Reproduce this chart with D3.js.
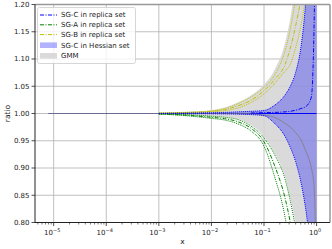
<!DOCTYPE html>
<html>
<head>
<meta charset="utf-8">
<script src="https://cdn.jsdelivr.net/npm/d3@7"></script>
<style>
  body { margin: 0; background: #fff; }
  svg { display: block; font-family: "DejaVu Sans", sans-serif; }
</style>
</head>
<body>
<svg width="332" height="249"></svg>
<script>
// x grid shared by all curves (log spaced)
var xGrid = [8e-6, 1e-4, 1e-3, 3.16e-3, 0.01, 0.0178, 0.0316, 0.0562, 0.1, 0.158, 0.251, 0.316, 0.398, 0.501, 0.631, 0.794, 0.891, 1.0];
// replica curves only start here
var replicaStart = 1e-3;

// GMM band + central line
var gmmHi  = [1, 1.0002, 1.001, 1.0028, 1.006, 1.011, 1.02, 1.033, 1.053, 1.08, 1.13, 1.175, 1.24, 1.32, 1.42, 1.55, 1.62, 1.7];
var gmmLo  = [1, 0.9999, 0.9995, 0.9982, 0.9955, 0.9935, 0.99, 0.979, 0.958, 0.928, 0.885, 0.845, 0.8, 0.74, 0.67, 0.59, 0.55, 0.5];
var gmmMid = [1, 1, 1, 1, 1, 1, 1, 0.9995, 0.997, 0.993, 0.982, 0.975, 0.965, 0.952, 0.93, 0.9, 0.87, 0.7];

// SG-C Hessian band (replica dotted lines sit on its edges)
var hessHi = [1, 1, 1.0003, 1.0007, 1.0015, 1.002, 1.003, 1.004, 1.0055, 1.015, 1.034, 1.05, 1.075, 1.12, 1.21, 1.35, 1.45, 1.55];
var hessLo = [1, 1, 0.9999, 0.9998, 0.9995, 0.9992, 0.9988, 0.998, 0.996, 0.982, 0.958, 0.938, 0.912, 0.875, 0.82, 0.74, 0.7, 0.65];
var hessMid = [1, 1, 1, 1, 1, 1, 1, 1, 1, 1, 1, 1, 1, 1, 1, 1, 1, 1];
var sgCMid = [1, 1, 1, 1, 1, 1, 1.0003, 1.0008, 1.0015, 1.002, 1.003, 1.004, 1.006, 1.009, 1.013, 1.03, 1.15, 1.5];

// SG-A replica (below 1)
var sgALo  = [1, 0.9998, 0.999, 0.996, 0.991, 0.988, 0.981, 0.968, 0.94, 0.885, 0.81, 0.75, 0.68, 0.6, 0.5, 0.4, 0.35, 0.3];
var sgAMid = [1, 0.99985, 0.9992, 0.997, 0.993, 0.9905, 0.985, 0.973, 0.948, 0.905, 0.845, 0.8, 0.74, 0.67, 0.59, 0.5, 0.45, 0.4];
var sgAHi  = [1, 0.9999, 0.9995, 0.998, 0.995, 0.993, 0.989, 0.977, 0.955, 0.925, 0.88, 0.84, 0.79, 0.73, 0.66, 0.58, 0.54, 0.5];

// SG-B replica (above 1)
var sgBHi  = [1, 1.0001, 1.0008, 1.0022, 1.005, 1.009, 1.018, 1.03, 1.048, 1.07, 1.115, 1.155, 1.21, 1.28, 1.38, 1.5, 1.57, 1.65];
var sgBMid = [1, 1.0001, 1.0006, 1.0017, 1.004, 1.007, 1.014, 1.024, 1.042, 1.062, 1.09, 1.12, 1.16, 1.21, 1.28, 1.37, 1.43, 1.5];
var sgBLo  = [1, 1, 1.0004, 1.0012, 1.003, 1.005, 1.01, 1.02, 1.036, 1.055, 1.078, 1.09, 1.12, 1.16, 1.22, 1.3, 1.35, 1.4];

var yTicks = [0.80, 0.85, 0.90, 0.95, 1.00, 1.05, 1.10, 1.15, 1.20];
var xTicks = [1e-5, 1e-4, 1e-3, 1e-2, 1e-1, 1];
var xTickExp = ["\u22125", "\u22124", "\u22123", "\u22122", "\u22121", "0"];
var legendLabels = ["SG-C in replica set", "SG-A in replica set", "SG-B in replica set", "SG-C in Hessian set", "GMM"];

var svg = d3.select("svg");
var pL = 35, pR = 330, pT = 4.5, pB = 222.5;

var x = d3.scaleLog().domain([Math.pow(10, -5.355), Math.pow(10, 0.255)]).range([pL, pR]);
var y = d3.scaleLinear().domain([0.8, 1.2]).range([pB, pT]);

svg.append("defs").append("clipPath").attr("id", "clip")
  .append("rect").attr("x", pL).attr("y", pT).attr("width", pR - pL).attr("height", pB - pT);

// grid
var grid = svg.append("g").attr("stroke", "#b0b0b0").attr("stroke-width", 0.8);
yTicks.forEach(function(v) {
  grid.append("line").attr("x1", pL).attr("x2", pR).attr("y1", y(v)).attr("y2", y(v));
});
xTicks.forEach(function(v) {
  grid.append("line").attr("x1", x(v)).attr("x2", x(v)).attr("y1", pT).attr("y2", pB);
});

var plot = svg.append("g").attr("clip-path", "url(#clip)");

function area(lo, hi) {
  return d3.area()
    .x(function(d, i) { return x(xGrid[i]); })
    .y0(function(d, i) { return y(lo[i]); })
    .y1(function(d, i) { return y(hi[i]); })
    .curve(d3.curveMonotoneX)(xGrid);
}
function line(vals, from) {
  return d3.line()
    .defined(function(d) { return d >= from; })
    .x(function(d, i) { return x(xGrid[i]); })
    .y(function(d, i) { return y(vals[i]); })
    .curve(d3.curveMonotoneX)(xGrid);
}

plot.append("path").attr("d", area(gmmLo, gmmHi)).attr("fill", "#d3d3d3").attr("fill-opacity", 0.85);
plot.append("path").attr("d", area(hessLo, hessHi)).attr("fill", "#0000ff").attr("fill-opacity", 0.3);

var dashdot = "4,1.5,1,1.5", dotted = "1,1";
var lines = [
  {v: hessMid, c: "#0000ff", dash: null, w: 1.2, from: 0},
  {v: gmmMid, c: "#808080", dash: null, w: 1, o: 0.85, from: 0},
  {v: sgAHi, c: "#008000", dash: dotted, from: replicaStart},
  {v: sgALo, c: "#008000", dash: dotted, from: replicaStart},
  {v: sgAMid, c: "#008000", dash: dashdot, from: replicaStart},
  {v: sgBHi, c: "#bfbf00", dash: dotted, from: replicaStart},
  {v: sgBLo, c: "#bfbf00", dash: dotted, from: replicaStart},
  {v: sgBMid, c: "#bfbf00", dash: dashdot, from: replicaStart},
  {v: hessHi, c: "#0000ff", dash: dotted, from: replicaStart},
  {v: hessLo, c: "#0000ff", dash: dotted, from: replicaStart},
  {v: sgCMid, c: "#0000ff", dash: dashdot, from: 0.05}
];
lines.forEach(function(l) {
  plot.append("path").attr("d", line(l.v, l.from)).attr("fill", "none")
    .attr("stroke", l.c).attr("stroke-width", l.w || 1)
    .attr("stroke-opacity", l.o || 1)
    .attr("stroke-dasharray", l.dash);
});

// spines
svg.append("line").attr("x1", pL).attr("x2", pR).attr("y1", pT).attr("y2", pT).attr("stroke", "#999").attr("stroke-width", 1.5);
svg.append("line").attr("x1", pR).attr("x2", pR).attr("y1", pT).attr("y2", pB).attr("stroke", "#999").attr("stroke-width", 1.5);
svg.append("line").attr("x1", pL).attr("x2", pL).attr("y1", pT).attr("y2", pB).attr("stroke", "#222").attr("stroke-width", 1);
svg.append("line").attr("x1", pL).attr("x2", pR).attr("y1", pB).attr("y2", pB).attr("stroke", "#222").attr("stroke-width", 1);

// y ticks
var yAx = svg.append("g");
yTicks.forEach(function(v) {
  yAx.append("line").attr("x1", pL - 3.5).attr("x2", pL).attr("y1", y(v)).attr("y2", y(v)).attr("stroke", "#222").attr("stroke-width", 0.8);
  yAx.append("text").attr("x", pL - 5.5).attr("y", y(v)).attr("dy", "0.35em")
    .attr("text-anchor", "end").attr("font-size", 7).attr("fill", "#222").text(d3.format(".2f")(v));
});

// x ticks (major + minor)
var xAx = svg.append("g");
for (var e = -6; e <= 0; e++) {
  for (var k = 2; k <= 9; k++) {
    var mv = k * Math.pow(10, e);
    if (mv < x.domain()[0] || mv > x.domain()[1]) continue;
    xAx.append("line").attr("x1", x(mv)).attr("x2", x(mv)).attr("y1", pB).attr("y2", pB + 2)
      .attr("stroke", "#222").attr("stroke-width", 0.6);
  }
}
xTicks.forEach(function(v, i) {
  xAx.append("line").attr("x1", x(v)).attr("x2", x(v)).attr("y1", pB).attr("y2", pB + 3.5).attr("stroke", "#222").attr("stroke-width", 0.8);
  var t = xAx.append("text").attr("x", x(v) - 1.5).attr("y", pB + 12.5).attr("text-anchor", "middle")
    .attr("font-size", 7).attr("fill", "#222");
  t.append("tspan").text("10");
  t.append("tspan").attr("dy", -3).attr("font-size", 5).text(xTickExp[i]);
});

svg.append("text").attr("x", (pL + pR) / 2).attr("y", 244).attr("text-anchor", "middle")
  .attr("font-size", 7.5).attr("fill", "#222").text("x");
svg.append("text").attr("transform", "translate(10," + y(1.0) + ") rotate(-90)").attr("text-anchor", "middle")
  .attr("font-size", 7.5).attr("fill", "#222").text("ratio");

// legend
var lg = svg.append("g");
lg.append("rect").attr("x", 37.5).attr("y", 7.5).attr("width", 98).attr("height", 56).attr("rx", 2)
  .attr("fill", "#fff").attr("fill-opacity", 0.8).attr("stroke", "#ccc").attr("stroke-width", 0.8);
var rowY = [15, 24.8, 34.6, 45.2, 55.8];
var handleColor = ["#0000ff", "#008000", "#bfbf00"];
legendLabels.forEach(function(lab, i) {
  if (i < 3) {
    lg.append("line").attr("x1", 40).attr("x2", 57).attr("y1", rowY[i]).attr("y2", rowY[i])
      .attr("stroke", handleColor[i]).attr("stroke-width", 1).attr("stroke-dasharray", dashdot);
  } else if (i == 3) {
    lg.append("rect").attr("x", 40).attr("y", rowY[i] - 2.8).attr("width", 17).attr("height", 5.6)
      .attr("fill", "#0000ff").attr("fill-opacity", 0.3);
  } else {
    lg.append("rect").attr("x", 40).attr("y", rowY[i] - 2.8).attr("width", 17).attr("height", 5.6)
      .attr("fill", "#d3d3d3").attr("fill-opacity", 0.85);
  }
  lg.append("text").attr("x", 61).attr("y", rowY[i]).attr("dy", "0.35em")
    .attr("font-size", 7).attr("fill", "#222").text(lab);
});
</script>
</body>
</html>
